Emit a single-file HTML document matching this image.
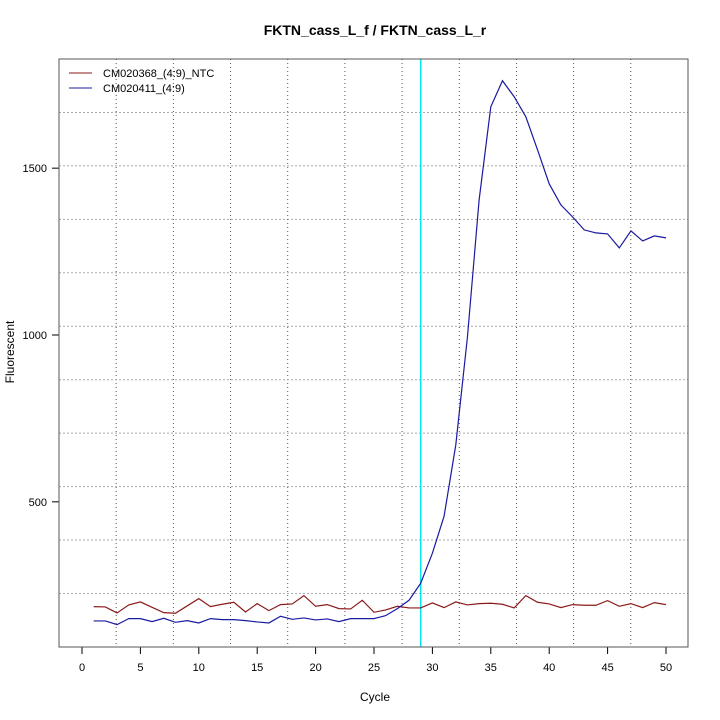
<!DOCTYPE html>
<html><head><meta charset="utf-8"><style>
body{margin:0;background:#fff}
svg{display:block;font-family:"Liberation Sans",sans-serif}
</style></head><body>
<svg id="chart" width="720" height="720" viewBox="0 0 720 720">
<rect width="720" height="720" fill="#fff"/>
<text x="375" y="35" text-anchor="middle" font-size="14" font-weight="bold">FKTN_cass_L_f / FKTN_cass_L_r</text>
<text x="375" y="701" text-anchor="middle" font-size="12">Cycle</text>
<text transform="translate(14,352) rotate(-90)" text-anchor="middle" font-size="12">Fluorescent</text>
<g id="grid"></g>
<g id="axes"></g>
<g id="series"></g>
<rect x="59" y="59" width="629" height="588" fill="none" stroke="#555" stroke-width="1"/>
<g>
<g><line x1="69" y1="73" x2="92" y2="73" stroke="#8b1a1a"/><text x="103" y="77" font-size="11">CM020368_(4:9)_NTC</text></g>
<g><line x1="69" y1="88" x2="92" y2="88" stroke="#1a1aa0"/><text x="103" y="92" font-size="11">CM020411_(4:9)</text></g>
</g>
</svg>
<script>
const cycles = Array.from({length:50},(_,i)=>i+1);
const ntcValues = [186,185,167,191,200,184,168,166,188,210,186,193,199,170,195,174,192,194,219,187,192,180,179,205,169,176,187,182,182,197,183,200,191,195,196,193,182,219,199,194,183,192,190,190,204,187,195,183,198,192];
const sampleValues = [143,143,132,150,150,141,151,139,144,137,150,147,147,144,140,137,157,148,152,146,149,141,150,150,150,159,180,205,256,346,457,670,994,1405,1684,1762,1714,1654,1555,1453,1390,1354,1315,1306,1303,1261,1312,1282,1297,1291];
const xTicks = [0,5,10,15,20,25,30,35,40,45,50];
const yTicks = [500,1000,1500];
const thresholdCycle = 29;

const NS="http://www.w3.org/2000/svg";
const xS = c => 82 + c*11.68;
const yS = v => 335 + (1000 - v)*0.33367;
function mk(tag, parent, attrs){const e=document.createElementNS(NS,tag);for(const k in attrs)e.setAttribute(k,attrs[k]);parent.appendChild(e);return e;}
const grid=document.getElementById('grid'), axes=document.getElementById('axes'), series=document.getElementById('series');
for(let k=1;k<=10;k++){
  const gx=59+k*57.18;
  const vl=mk('line',grid,{x1:gx,y1:59,x2:gx,y2:647,stroke:'#555','stroke-dasharray':'1 3'});
  
  
  const gy=59+k*53.45;
  const hl=mk('line',grid,{x1:59,y1:gy,x2:688,y2:gy,stroke:'#aaa','stroke-dasharray':'2 2'});
  
  
}
mk('line',axes,{x1:xS(0),y1:647,x2:xS(50),y2:647,stroke:'#000'});
xTicks.forEach(t=>{
  const l=mk('line',axes,{x1:xS(t),y1:647,x2:xS(t),y2:654,stroke:'#000'});
  
  
  const tx=mk('text',axes,{x:xS(t),y:671,'text-anchor':'middle','font-size':11});
  tx.textContent=t;
  
  
});
mk('line',axes,{x1:59,y1:yS(yTicks[0]),x2:59,y2:yS(yTicks[yTicks.length-1]),stroke:'#000'});
yTicks.forEach(t=>{
  const l=mk('line',axes,{x1:52,y1:yS(t),x2:59,y2:yS(t),stroke:'#000'});
  
  
  const tx=mk('text',axes,{x:47,y:yS(t)+4,'text-anchor':'end','font-size':11});
  tx.textContent=t;
  
  
});
const th=mk('line',series,{x1:xS(thresholdCycle),y1:59,x2:xS(thresholdCycle),y2:647,stroke:'#00e5ee','stroke-width':1.5});


const p1=mk('polyline',series,{points:cycles.map((c,i)=>xS(c)+','+yS(ntcValues[i])).join(' '),fill:'none',stroke:'#8b1a1a','stroke-width':1.2});


const p2=mk('polyline',series,{points:cycles.map((c,i)=>xS(c)+','+yS(sampleValues[i])).join(' '),fill:'none',stroke:'#1a1aa0','stroke-width':1.2});


</script>
</body></html>
